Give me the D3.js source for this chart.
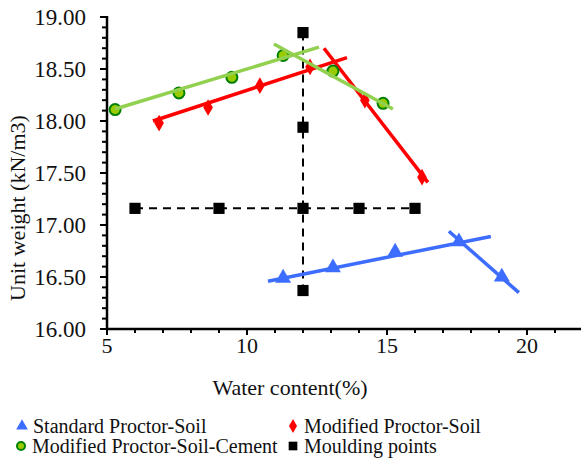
<!DOCTYPE html>
<html>
<head>
<meta charset="utf-8">
<script src="https://cdn.jsdelivr.net/npm/d3@7"></script>
</head>
<body style="margin:0">
<script>
// values
var standardSoil = [[11.29, 16.49], [13.07, 16.59], [15.29, 16.74], [17.57, 16.84], [19.1, 16.50]];
var modifiedSoil = [[6.86, 17.98], [8.61, 18.13], [10.46, 18.34], [12.25, 18.52], [14.21, 18.20], [16.25, 17.46]];
var modifiedCement = [[5.29, 18.11], [7.57, 18.27], [9.46, 18.42], [11.29, 18.63], [13.07, 18.48], [14.86, 18.17]];
var moulding = [[12, 18.85], [12, 17.94], [6, 17.16], [9, 17.16], [12, 17.16], [14, 17.16], [16, 17.16], [12, 16.37]];

// trend lines (dry side / wet side)
var standardLines = [[[10.75, 16.46], [18.71, 16.89]], [[17.21, 16.94], [19.71, 16.35]]];
var modifiedLines = [[[6.64, 18.0], [13.57, 18.61]], [[12.75, 18.70], [16.46, 17.41]]];
var cementLines = [[[5.29, 18.115], [12.57, 18.71]], [[10.96, 18.74], [15.21, 18.115]]];
var mouldingLines = [[[6, 17.16], [16, 17.16]], [[12, 18.85], [12, 16.37]]];

var xTicks = [5, 10, 15, 20];
var yTicks = [16, 16.5, 17, 17.5, 18, 18.5, 19];

var width = 581, height = 458;
var svg = d3.select("body").append("svg")
    .attr("width", width)
    .attr("height", height);

var x = d3.scaleLinear().domain([5, 22]).range([107, 583]);
var y = d3.scaleLinear().domain([16, 19]).range([329, 17]);

function label(sel, size) {
  return sel.style("font-family", "'Liberation Serif'").attr("font-size", size).attr("fill", "#111");
}

// x axis
var xAxis = svg.append("g").attr("transform", "translate(0," + y(16) + ")");
xAxis.append("line").attr("x1", x(5)).attr("x2", width).attr("stroke", "#000").attr("stroke-width", 2.5);
xAxis.selectAll(".minor").data(d3.range(5, 22, 1)).enter().append("line")
    .attr("x1", function(d) { return x(d); }).attr("x2", function(d) { return x(d); })
    .attr("y1", 0).attr("y2", function(d) { return xTicks.indexOf(d) >= 0 ? 6 : 4; })
    .attr("stroke", "#000").attr("stroke-width", 2);
label(xAxis.selectAll(".lbl").data(xTicks).enter().append("text"), 22)
    .attr("x", function(d) { return x(d); }).attr("y", 24)
    .attr("text-anchor", "middle")
    .text(function(d) { return d; });

// y axis
var yAxis = svg.append("g").attr("transform", "translate(" + x(5) + ",0)");
yAxis.append("line").attr("y1", y(19) - 1).attr("y2", y(16)).attr("stroke", "#000").attr("stroke-width", 2.5);
yAxis.selectAll(".minor").data(d3.range(0, 31)).enter().append("line")
    .attr("y1", function(d) { return y(16 + d / 10); }).attr("y2", function(d) { return y(16 + d / 10); })
    .attr("x1", function(d) { return d % 5 === 0 ? -7 : -5; }).attr("x2", 0)
    .attr("stroke", "#000").attr("stroke-width", 2);
label(yAxis.selectAll(".lbl").data(yTicks).enter().append("text"), 23)
    .attr("x", -21).attr("y", function(d) { return y(d) + 8; })
    .attr("text-anchor", "end")
    .text(function(d) { return d3.format(".2f")(d); });

label(svg.append("text"), 22)
    .attr("x", 290).attr("y", 395)
    .attr("text-anchor", "middle")
    .text("Water content(%)");
label(svg.append("text"), 22)
    .attr("transform", "translate(25,208) rotate(-90)")
    .attr("text-anchor", "middle")
    .text("Unit weight (kN/m3)");

var line = d3.line().x(function(d) { return x(d[0]); }).y(function(d) { return y(d[1]); });

// moulding dashed lines
svg.selectAll(".mline").data(mouldingLines).enter().append("path")
    .attr("d", line).attr("fill", "none").attr("stroke", "#000")
    .attr("stroke-width", 2).attr("stroke-dasharray", "8,6");

function drawLines(data, color) {
  svg.append("g").selectAll("path").data(data).enter().append("path")
      .attr("d", line).attr("fill", "none").attr("stroke", color).attr("stroke-width", 3.5);
}

var blue = "#3d6dff", red = "#ff0000", lightGreen = "#92d050";

drawLines(standardLines, blue);
drawLines(modifiedLines, red);

// markers
var tri = d3.symbol().type(d3.symbolTriangle).size(110);
var dia = d3.symbol().type(d3.symbolDiamond).size(80);
var sq = d3.symbol().type(d3.symbolSquare).size(125);

svg.append("g").selectAll("path").data(standardSoil).enter().append("path")
    .attr("d", tri).attr("fill", blue)
    .attr("transform", function(d) { return "translate(" + x(d[0]) + "," + y(d[1]) + ")"; });
svg.append("g").selectAll("path").data(modifiedSoil).enter().append("path")
    .attr("d", dia).attr("fill", red)
    .attr("transform", function(d) { return "translate(" + x(d[0]) + "," + y(d[1]) + ")"; });
svg.append("g").selectAll("circle").data(modifiedCement).enter().append("circle")
    .attr("cx", function(d) { return x(d[0]); }).attr("cy", function(d) { return y(d[1]); })
    .attr("r", 5.5).attr("fill", "#99cc00").attr("stroke", "#008000").attr("stroke-width", 2);
drawLines(cementLines, lightGreen);
svg.append("g").selectAll("path").data(moulding).enter().append("path")
    .attr("d", sq).attr("fill", "#000")
    .attr("transform", function(d) { return "translate(" + x(d[0]) + "," + y(d[1]) + ")"; });

// legend
var legend = [
  {name: "Standard Proctor-Soil", sym: "tri", lx: 22, ly: 426},
  {name: "Modified Proctor-Soil", sym: "dia", lx: 293, ly: 426},
  {name: "Modified Proctor-Soil-Cement", sym: "circ", lx: 21, ly: 446},
  {name: "Moulding points", sym: "sq", lx: 293, ly: 446}
];
var lg = svg.append("g").selectAll("g").data(legend).enter().append("g")
    .attr("transform", function(d) { return "translate(" + d.lx + "," + d.ly + ")"; });
lg.each(function(d) {
  var g = d3.select(this);
  if (d.sym === "tri") g.append("path").attr("d", d3.symbol().type(d3.symbolTriangle).size(60)).attr("fill", blue);
  if (d.sym === "dia") g.append("path").attr("d", d3.symbol().type(d3.symbolDiamond).size(55)).attr("fill", red);
  if (d.sym === "sq") g.append("path").attr("d", d3.symbol().type(d3.symbolSquare).size(75)).attr("fill", "#000");
  if (d.sym === "circ") g.append("circle").attr("r", 4).attr("fill", "#99cc00").attr("stroke", "#008000").attr("stroke-width", 2);
});
label(lg.append("text"), 20).attr("x", 11).attr("y", 7)
    .text(function(d) { return d.name; });
</script>
</body>
</html>
